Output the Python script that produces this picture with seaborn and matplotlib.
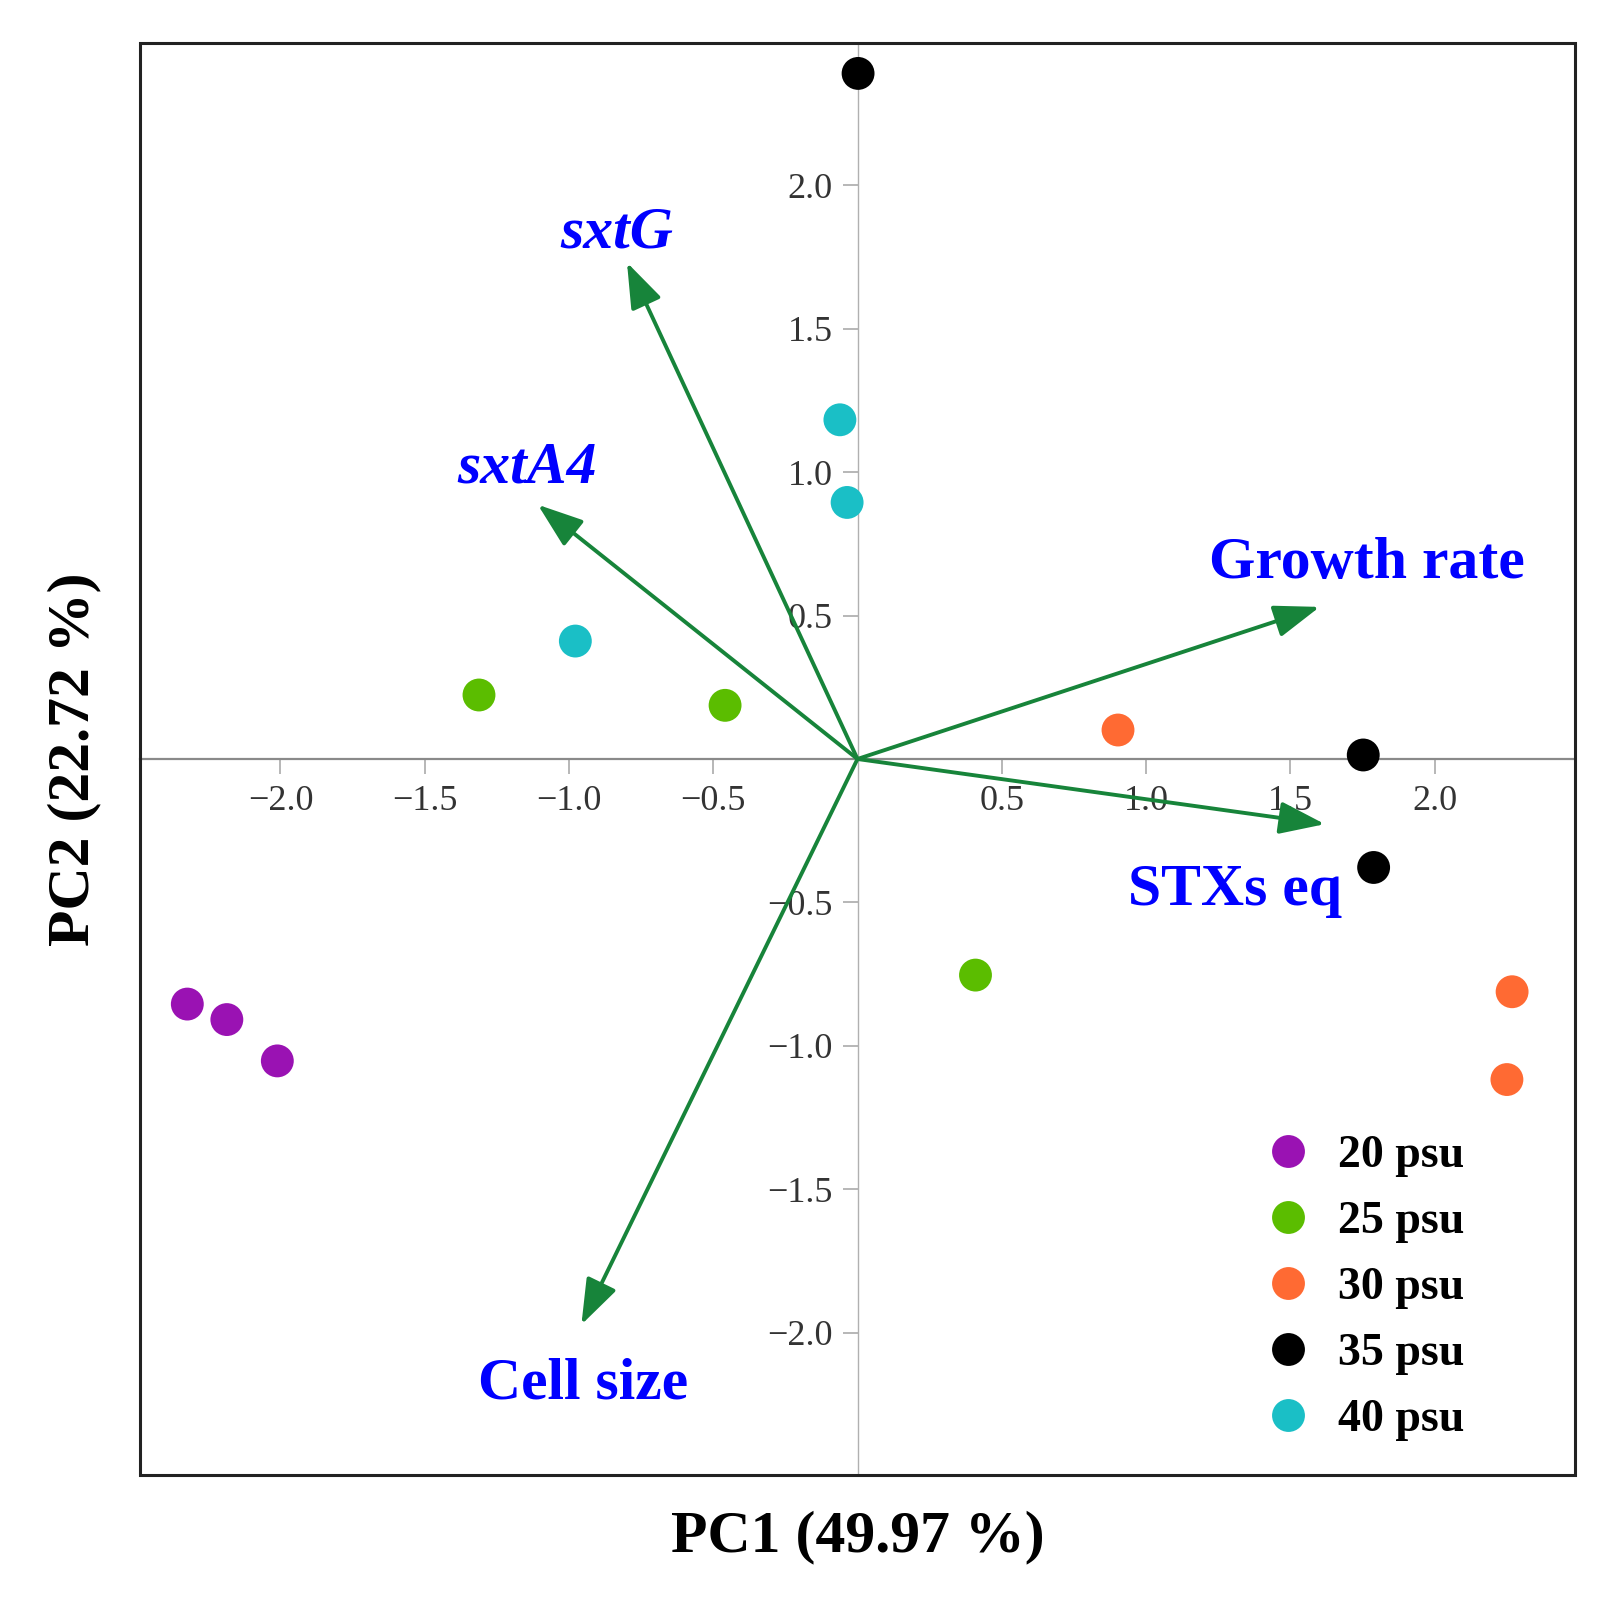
import matplotlib
matplotlib.use("Agg")
import matplotlib.pyplot as plt
from matplotlib.patches import Rectangle
import seaborn as sns
import pandas as pd

# ---- data ----
groups = ["20 psu", "25 psu", "30 psu", "35 psu", "40 psu"]
colors = ["#9A12B3", "#5BBD00", "#FF6A33", "#000000", "#1ABFC6"]

pc1_20 = [-2.323, -2.186, -2.011]
pc2_20 = [-0.854, -0.908, -1.052]
pc1_25 = [-1.312, -0.459, 0.409]
pc2_25 = [0.223, 0.187, -0.753]
pc1_30 = [0.903, 2.269, 2.251]
pc2_30 = [0.101, -0.811, -1.117]
pc1_35 = [0.002, 1.753, 1.789]
pc2_35 = [2.389, 0.014, -0.378]
pc1_40 = [-0.061, -0.036, -0.978]
pc2_40 = [1.182, 0.894, 0.411]

loading_names = ["sxtG", "sxtA4", "Growth rate", "STXs eq", "Cell size"]
loading_pc1 = [-0.799, -1.108, 1.602, 1.620, -0.957]
loading_pc2 = [1.730, 0.886, 0.530, -0.227, -1.971]
label_pc1 = [-0.835, -1.147, 1.767, 1.308, -0.950]
label_pc2 = [1.784, 0.962, 0.631, -0.508, -2.227]
label_italic = [True, True, False, False, False]

ticks = [-2.0, -1.5, -1.0, -0.5, 0.5, 1.0, 1.5, 2.0]
xlabel = "PC1 (49.97 %)"
ylabel = "PC2 (22.72 %)"

# ---- build frame ----
pc1_all = [pc1_20, pc1_25, pc1_30, pc1_35, pc1_40]
pc2_all = [pc2_20, pc2_25, pc2_30, pc2_35, pc2_40]
rows = []
for g, xs, ys in zip(groups, pc1_all, pc2_all):
    for a, b in zip(xs, ys):
        rows.append({"PC1": a, "PC2": b, "group": g})
df = pd.DataFrame(rows)

sns.set_style("white")
plt.rcParams["font.family"] = ["Liberation Serif", "DejaVu Serif"]
plt.rcParams["axes.unicode_minus"] = True

W, H = 1620, 1612
fig = plt.figure(figsize=(W / 100, H / 100), dpi=100)
ax = fig.add_axes([140 / W, 137 / H, 1435 / W, 1432 / H])

sns.scatterplot(data=df, x="PC1", y="PC2", hue="group", hue_order=groups,
                palette=dict(zip(groups, colors)), s=560, linewidth=0,
                ax=ax, zorder=3)

ax.set_xlim(-2.487, 2.487)
ax.set_ylim(-2.495, 2.495)

# axes through origin
ax.spines["left"].set_position("zero")
ax.spines["bottom"].set_position("zero")
ax.spines["top"].set_visible(False)
ax.spines["right"].set_visible(False)
ax.spines["bottom"].set_color("#8a8a8a")
ax.spines["bottom"].set_linewidth(1.6)
ax.spines["left"].set_color("#b0b0b0")
ax.spines["left"].set_linewidth(1.0)

ax.set_xticks(ticks)
ax.set_yticks(ticks)
ax.tick_params(axis="x", bottom=True, direction="out", length=11, width=1.2,
               color="#aaaaaa", pad=8, labelsize=26, labelcolor="#333333")
ax.tick_params(axis="y", left=True, direction="out", length=11, width=1.2,
               color="#aaaaaa", pad=7, labelsize=26, labelcolor="#333333")

# outer frame
ax.add_patch(Rectangle((0, 0), 1, 1, transform=ax.transAxes, fill=False,
                       lw=2.2, ec="#222222", clip_on=False, zorder=6))

# loading arrows
for name, lx, ly, tx, ty, it in zip(loading_names, loading_pc1, loading_pc2,
                                     label_pc1, label_pc2, label_italic):
    ax.annotate("", xy=(lx, ly), xytext=(0, 0),
                arrowprops=dict(arrowstyle="-|>,head_length=1.4,head_width=0.5",
                                mutation_scale=20, color="#17843a", lw=2.8,
                                shrinkA=0, shrinkB=0),
                zorder=4)
    ax.text(tx, ty, name, color="#0000FF", fontsize=43, fontweight="bold",
            style="italic" if it else "normal", ha="center", va="baseline",
            zorder=5)

# axis labels
ax.set_xlabel(xlabel, fontsize=43, fontweight="bold", color="black")
ax.set_ylabel(ylabel, fontsize=43, fontweight="bold", color="black")
ax.xaxis.set_label_coords(0.5, -0.025)
ax.yaxis.set_label_coords(-0.027, 0.5)

# legend
handles, labels = ax.get_legend_handles_labels()
leg = ax.legend(handles, labels, loc="lower right", bbox_to_anchor=(0.936, 0.011),
                frameon=False, prop={"weight": "bold", "size": 33},
                handlelength=1.0, handletextpad=0.6, labelspacing=0.52,
                borderaxespad=0)
for t in leg.get_texts():
    t.set_color("black")

fig.savefig("out.png", dpi=100)
